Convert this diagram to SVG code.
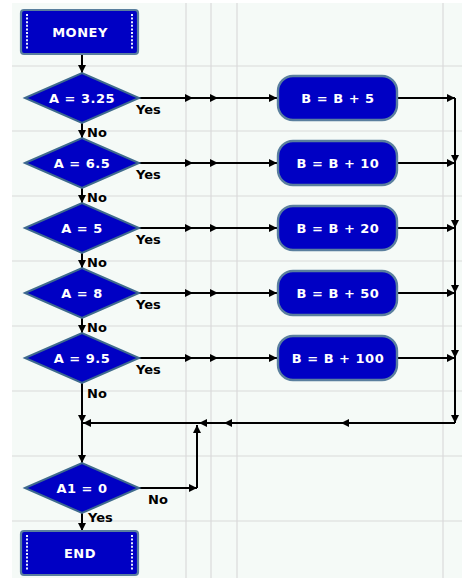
<svg xmlns="http://www.w3.org/2000/svg" width="462" height="578" viewBox="0 0 462 578">
<defs>
<marker id="ah" viewBox="0 0 10 10" refX="10" refY="5" markerWidth="9" markerHeight="8" markerUnits="userSpaceOnUse" orient="auto">
<path d="M0,0 L10,5 L0,10 Z" fill="#000"/>
</marker>
<style>
.grid{stroke:#dadada;stroke-width:1.2}
.term{fill:#0000c4;stroke:#5a7f9e;stroke-width:2.2}
.dots{stroke:#e8eeff;stroke-width:2;stroke-dasharray:2 1.6}
.dia{fill:#0000c4;stroke:#3f6b8e;stroke-width:2}
.proc{fill:#0000c4;stroke:#5a7f9e;stroke-width:2.4}
.nt{font-family:"DejaVu Sans",sans-serif;font-weight:bold;font-size:13px;fill:#fff;text-anchor:middle;letter-spacing:0.5px}
.lb{font-family:"DejaVu Sans",sans-serif;font-weight:bold;font-size:13px;fill:#000}
.c{fill:none;stroke:#000;stroke-width:2}
.cm{fill:none;stroke:#000;stroke-width:2;marker-mid:url(#ah);marker-end:url(#ah)}
</style>
</defs>
<rect x="0" y="0" width="462" height="578" fill="#fff"/>
<rect x="12" y="3" width="450" height="575" fill="#f5faf7"/>
<g id="grid">
<line class="grid" x1="186" y1="3" x2="186" y2="578"/>
<line class="grid" x1="211" y1="3" x2="211" y2="578"/>
<line class="grid" x1="237" y1="3" x2="237" y2="578"/>
<line class="grid" x1="443" y1="3" x2="443" y2="578"/>
<line class="grid" x1="12" y1="66" x2="462" y2="66"/>
<line class="grid" x1="12" y1="131" x2="462" y2="131"/>
<line class="grid" x1="12" y1="196" x2="462" y2="196"/>
<line class="grid" x1="12" y1="261" x2="462" y2="261"/>
<line class="grid" x1="12" y1="326" x2="462" y2="326"/>
<line class="grid" x1="12" y1="391" x2="462" y2="391"/>
<line class="grid" x1="12" y1="456" x2="462" y2="456"/>
<line class="grid" x1="12" y1="521" x2="462" y2="521"/>
</g>
<g id="connectors">
<polyline class="cm" points="82,54 82,73"/>
<polyline class="cm" points="82,123 82,138"/>
<polyline class="cm" points="82,188 82,203"/>
<polyline class="cm" points="82,253 82,268"/>
<polyline class="cm" points="82,318 82,333"/>
<polyline class="cm" points="82,383 82,423 82,463"/>
<polyline class="cm" points="139,98 193,98 218,98 277,98"/>
<polyline class="cm" points="139,163 193,163 218,163 277,163"/>
<polyline class="cm" points="139,228 193,228 218,228 277,228"/>
<polyline class="cm" points="139,293 193,293 218,293 277,293"/>
<polyline class="cm" points="139,358 193,358 218,358 277,358"/>
<polyline class="cm" points="397,98 455,98"/>
<polyline class="cm" points="397,163 455,163"/>
<polyline class="cm" points="397,228 455,228"/>
<polyline class="cm" points="397,293 455,293"/>
<polyline class="cm" points="397,358 455,358"/>
<polyline class="cm" points="455,98 455,163 455,228 455,293 455,358 455,423"/>
<polyline class="cm" points="455,423 341,423 224,423 199,423 83,423"/>
<polyline class="cm" points="139,488 197,488"/>
<polyline class="cm" points="197,488 197,425"/>
<polyline class="cm" points="82,513 82,531"/>
<text class="lb" x="136" y="114">Yes</text>
<text class="lb" x="136" y="179">Yes</text>
<text class="lb" x="136" y="244">Yes</text>
<text class="lb" x="136" y="309">Yes</text>
<text class="lb" x="136" y="374">Yes</text>
<text class="lb" x="87" y="137">No</text>
<text class="lb" x="87" y="202">No</text>
<text class="lb" x="87" y="267">No</text>
<text class="lb" x="87" y="332">No</text>
<text class="lb" x="87" y="398">No</text>
<text class="lb" x="148" y="504">No</text>
<text class="lb" x="88" y="522">Yes</text>
</g>
<g id="money">
<rect class="term" x="21" y="10" width="117" height="44" rx="3"/>
<line class="dots" x1="27" y1="14" x2="27" y2="50"/>
<line class="dots" x1="132" y1="14" x2="132" y2="50"/>
<text class="nt" x="80" y="37">MONEY</text>
</g>
<g id="d1">
<polygon class="dia" points="25,98 82,73 139,98 82,123"/>
<text class="nt" x="82" y="103">A = 3.25</text>
</g>
<g id="d2">
<polygon class="dia" points="25,163 82,138 139,163 82,188"/>
<text class="nt" x="82" y="168">A = 6.5</text>
</g>
<g id="d3">
<polygon class="dia" points="25,228 82,203 139,228 82,253"/>
<text class="nt" x="82" y="233">A = 5</text>
</g>
<g id="d4">
<polygon class="dia" points="25,293 82,268 139,293 82,318"/>
<text class="nt" x="82" y="298">A = 8</text>
</g>
<g id="d5">
<polygon class="dia" points="25,358 82,333 139,358 82,383"/>
<text class="nt" x="82" y="363">A = 9.5</text>
</g>
<g id="p1">
<rect class="proc" x="278" y="76" width="119" height="44" rx="15"/>
<text class="nt" x="338" y="103">B = B + 5</text>
</g>
<g id="p2">
<rect class="proc" x="278" y="141" width="119" height="44" rx="15"/>
<text class="nt" x="338" y="168">B = B + 10</text>
</g>
<g id="p3">
<rect class="proc" x="278" y="206" width="119" height="44" rx="15"/>
<text class="nt" x="338" y="233">B = B + 20</text>
</g>
<g id="p4">
<rect class="proc" x="278" y="271" width="119" height="44" rx="15"/>
<text class="nt" x="338" y="298">B = B + 50</text>
</g>
<g id="p5">
<rect class="proc" x="278" y="336" width="119" height="44" rx="15"/>
<text class="nt" x="338" y="363">B = B + 100</text>
</g>
<g id="d6">
<polygon class="dia" points="25,488 82,463 139,488 82,513"/>
<text class="nt" x="82" y="493">A1 = 0</text>
</g>
<g id="end">
<rect class="term" x="21" y="531" width="117" height="44" rx="3"/>
<line class="dots" x1="27" y1="535" x2="27" y2="571"/>
<line class="dots" x1="132" y1="535" x2="132" y2="571"/>
<text class="nt" x="80" y="558">END</text>
</g>
</svg>
